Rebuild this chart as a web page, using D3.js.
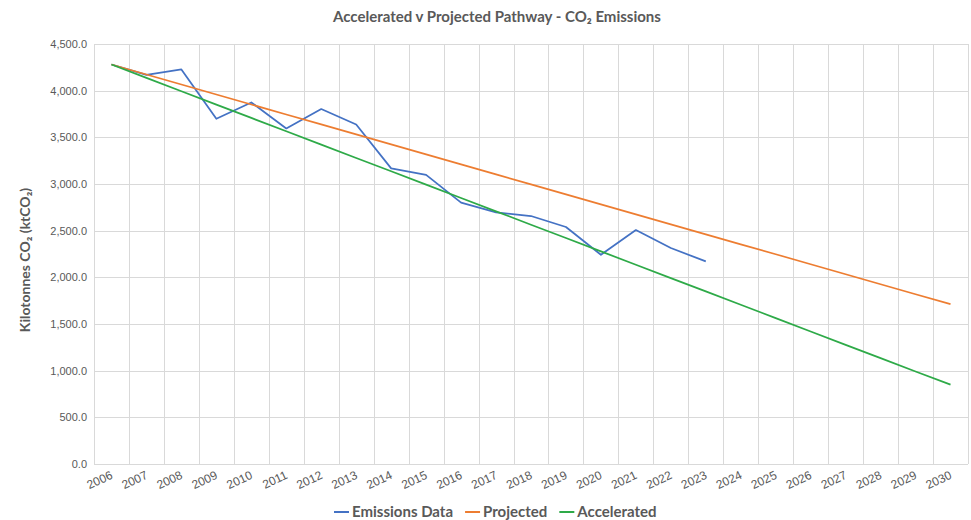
<!DOCTYPE html>
<html>
<head>
<meta charset="utf-8">
<script src="https://cdn.jsdelivr.net/npm/d3@7"></script>
<style>
  body { margin: 0; background: #fff; }
  svg { font-family: Lato, "Open Sans", sans-serif; }
</style>
</head>
<body>
<div id="chart"></div>
<script>
// ---- data ----
const years = [2006, 2007, 2008, 2009, 2010, 2011, 2012, 2013, 2014, 2015, 2016, 2017,
               2018, 2019, 2020, 2021, 2022, 2023, 2024, 2025, 2026, 2027, 2028, 2029, 2030];
const emissions = [4280, 4170, 4228, 3699, 3874, 3595, 3803, 3638, 3167, 3098, 2800, 2696,
                   2657, 2539, 2242, 2507, 2314, 2171];
const projected = [4280, 4173, 4066, 3959, 3852, 3745, 3638, 3531, 3424, 3317, 3210, 3103,
                   2996, 2889, 2782, 2675, 2568, 2461, 2354, 2247, 2140, 2033, 1926, 1819, 1712];
const accelerated = [4280, 4137, 3994, 3851, 3708, 3565, 3422, 3279, 3136, 2993, 2850, 2707,
                     2564, 2421, 2278, 2135, 1992, 1849, 1706, 1563, 1420, 1277, 1134, 991, 850];
const yTicks = [0, 500, 1000, 1500, 2000, 2500, 3000, 3500, 4000, 4500];

const series = [
  { name: "Emissions Data", values: emissions, color: "#4472c4" },
  { name: "Projected", values: projected, color: "#ed7d31" },
  { name: "Accelerated", values: accelerated, color: "#2eaa48" }
];

// ---- setup ----
const width = 971, height = 520;
const margin = { top: 44, right: 3, bottom: 56, left: 94 };
const textColor = "#595959";
const gridColor = "#d9d9d9";

const svg = d3.select("#chart").append("svg")
  .attr("width", width)
  .attr("height", height);

const x = d3.scaleBand()
  .domain(years)
  .range([margin.left, width - margin.right]);

const y = d3.scaleLinear()
  .domain([0, 4500])
  .range([height - margin.bottom, margin.top]);

// gridlines
svg.append("g")
  .selectAll("line")
  .data(yTicks)
  .join("line")
  .attr("x1", margin.left)
  .attr("x2", width - margin.right)
  .attr("y1", d => Math.round(y(d)) + 0.5)
  .attr("y2", d => Math.round(y(d)) + 0.5)
  .attr("stroke", gridColor)
  .attr("stroke-width", 1);

const bounds = years.map(d => x(d)).concat([x.range()[1]]);
svg.append("g")
  .selectAll("line")
  .data(bounds)
  .join("line")
  .attr("x1", d => Math.round(d) + 0.5)
  .attr("x2", d => Math.round(d) + 0.5)
  .attr("y1", y(4500))
  .attr("y2", y(0))
  .attr("stroke", gridColor)
  .attr("stroke-width", 1);

// y axis labels
const yAxis = svg.append("g")
  .attr("transform", `translate(${margin.left - 4},0)`)
  .call(d3.axisLeft(y).tickValues(yTicks).tickFormat(d3.format(",.1f")).tickSize(0));
yAxis.select(".domain").remove();
yAxis.selectAll("text")
  .attr("fill", textColor)
  .style("font-size", "11px");

// x axis labels
const xAxis = svg.append("g")
  .attr("transform", `translate(0,${y(0)})`)
  .call(d3.axisBottom(x).tickSize(0));
xAxis.select(".domain").remove();
xAxis.selectAll("text")
  .attr("fill", textColor)
  .style("font-size", "12px")
  .attr("text-anchor", "end")
  .attr("dy", null)
  .attr("y", 0)
  .attr("transform", "translate(2,14) rotate(-25)");

// lines
const line = d3.line()
  .x((d, i) => x(years[i]) + x.bandwidth() / 2)
  .y(d => y(d));

svg.append("g")
  .selectAll("path")
  .data(series)
  .join("path")
  .attr("fill", "none")
  .attr("stroke", d => d.color)
  .attr("stroke-width", 1.75)
  .attr("stroke-linejoin", "round")
  .attr("d", d => line(d.values));

// title
svg.append("text")
  .attr("x", 497)
  .attr("y", 22)
  .attr("text-anchor", "middle")
  .attr("fill", textColor)
  .style("font-size", "15px")
  .style("font-weight", "bold")
  .text("Accelerated v Projected Pathway - CO₂ Emissions");

// y title
svg.append("text")
  .attr("transform", `translate(30,${(y(0) + y(4500)) / 2 + 6}) rotate(-90)`)
  .attr("text-anchor", "middle")
  .attr("fill", textColor)
  .style("font-size", "14px")
  .style("font-weight", "bold")
  .text("Kilotonnes CO₂ (ktCO₂)");

// legend
const legend = svg.append("g").attr("transform", "translate(334,512)");
let lx = 0;
series.forEach(s => {
  const g = legend.append("g").attr("transform", `translate(${lx},0)`);
  g.append("line")
    .attr("x1", 0).attr("x2", 15)
    .attr("y1", 0).attr("y2", 0)
    .attr("stroke", s.color)
    .attr("stroke-width", 2);
  const t = g.append("text")
    .attr("x", 18)
    .attr("y", 5)
    .attr("fill", textColor)
    .style("font-size", "15px")
    .style("font-weight", "bold")
    .text(s.name);
  lx += 18 + t.node().getComputedTextLength() + 12;
});
</script>
</body>
</html>
